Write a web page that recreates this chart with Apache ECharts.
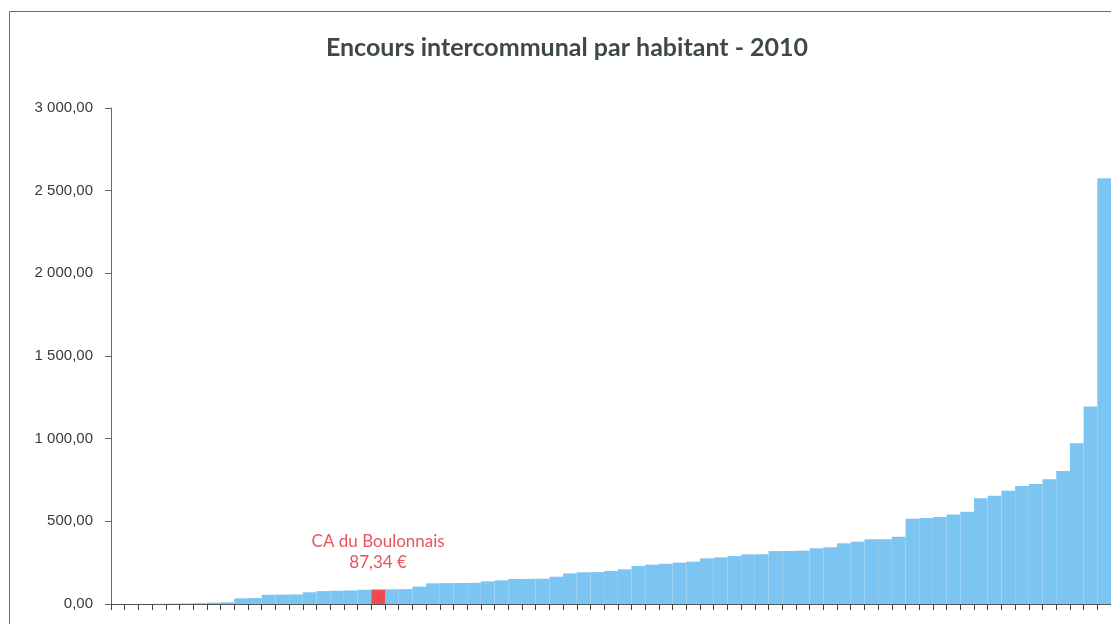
<!DOCTYPE html>
<html>
<head>
<meta charset="utf-8">
<script src="https://cdn.jsdelivr.net/npm/echarts@6/dist/echarts.min.js"></script>
<style>
  html, body { margin: 0; padding: 0; background: #ffffff; }
  #chart { width: 1111px; height: 624px; }
</style>
</head>
<body>
<div id="chart"></div>
<script>
// Intercommunal debt per inhabitant, 2010 — one bar per EPCI, sorted ascending
const titleText = 'Encours intercommunal par habitant - 2010';
const ranks = [
  '1','2','3','4','5','6','7','8','9','10','11','12','13','14','15','16','17','18','19','20',
  '21','22','23','24','25','26','27','28','29','30','31','32','33','34','35','36','37','38','39','40',
  '41','42','43','44','45','46','47','48','49','50','51','52','53','54','55','56','57','58','59','60',
  '61','62','63','64','65','66','67','68','69','70','71','72','73'
];
const debtPerInhabitant = [
  0, 0, 0.5, 1, 2, 3, 5, 8, 10, 34,
  36, 56, 57, 58, 71, 78, 80, 82, 86, 87.34,
  89, 90, 105, 125, 126, 127, 128, 137, 143, 151,
  152, 153, 165, 185, 192, 193, 200, 210, 230, 238,
  243, 250, 256, 276, 282, 290, 300, 301, 320, 321,
  323, 337, 343, 367, 377, 391, 392, 407, 515, 520,
  526, 542, 558, 639, 655, 685, 714, 726, 754, 804,
  972, 1195, 2575
];
const highlightIndex = 19;
const highlightName = 'CA du Boulonnais';
const yTicks = [0, 500, 1000, 1500, 2000, 2500, 3000];

function frNumber(v) {
  const parts = v.toFixed(2).split('.');
  const intPart = parts[0].replace(/\B(?=(\d{3})+(?!\d))/g, ' ');
  return intPart + ',' + parts[1];
}

const barData = debtPerInhabitant.map(function (v, i) {
  if (i !== highlightIndex) return v;
  return {
    value: v,
    itemStyle: { color: '#EE4B4E' },
    label: {
      show: true,
      position: 'top',
      distance: 17,
      formatter: function (p) { return highlightName + '\n' + frNumber(p.value) + ' €'; },
      color: '#E8555C',
      fontFamily: 'Lato, "Open Sans", sans-serif',
      fontSize: 17,
      lineHeight: 21,
      align: 'center'
    }
  };
});

const chart = echarts.init(document.getElementById('chart'), null, { renderer: 'canvas' });
chart.setOption({
  animation: false,
  backgroundColor: '#ffffff',
  title: {
    text: titleText,
    left: 562,
    textAlign: 'center',
    top: 30,
    textStyle: {
      fontFamily: 'Lato, "Open Sans", sans-serif',
      fontWeight: 'bold',
      fontSize: 25,
      color: '#3E4946'
    }
  },
  graphic: [{
    type: 'rect',
    shape: { x: 9.5, y: 11.5, width: 1200, height: 700 },
    style: { fill: 'none', stroke: '#6a6a6a', lineWidth: 1 },
    silent: true,
    z: -1
  }],
  grid: { left: 111, top: 108, width: 1001.6, height: 496 },
  xAxis: {
    type: 'category',
    data: ranks,
    boundaryGap: true,
    axisLine: { show: true, lineStyle: { color: '#555555', width: 1 } },
    axisTick: { show: true, length: 6, interval: 0, lineStyle: { color: '#444444' } },
    axisLabel: { show: false },
    splitLine: { show: false }
  },
  yAxis: {
    type: 'value',
    min: yTicks[0],
    max: yTicks[yTicks.length - 1],
    interval: 500,
    axisLine: { show: true, lineStyle: { color: '#666666', width: 1 } },
    axisTick: { show: true, length: 6, lineStyle: { color: '#666666' } },
    axisLabel: {
      margin: 18,
      formatter: function (v) { return frNumber(v); },
      fontFamily: '"Liberation Sans", Arial, sans-serif',
      fontSize: 15,
      color: '#3a3a3a'
    },
    splitLine: { show: false }
  },
  series: [{
    type: 'bar',
    data: barData,
    barCategoryGap: '0%',
    itemStyle: { color: '#7CC5F2' }
  }]
});
</script>
</body>
</html>
